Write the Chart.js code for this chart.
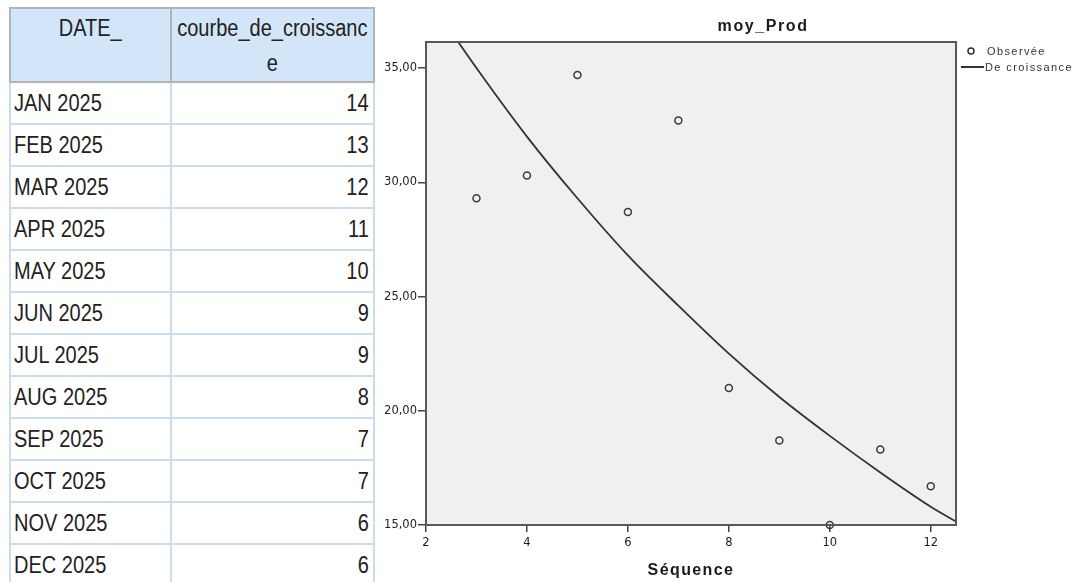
<!DOCTYPE html>
<html>
<head>
<meta charset="utf-8">
<script src="https://cdn.jsdelivr.net/npm/chart.js@4"></script>
<style>
    html, body { margin: 0; padding: 0; background: #fff; width: 1077px; height: 582px; overflow: hidden; }
    #grid {
        position: absolute; left: 9px; top: 7px;
        border-collapse: collapse; table-layout: fixed; width: 364px;
        font-family: "Liberation Sans", Arial, sans-serif; font-size: 23px; color: #222;
    }
    #grid th {
        background: #d3e5f9; border: 2px solid #b3b3b3; font-weight: normal;
        height: 70px; padding: 2px 0 0 0; vertical-align: top; line-height: 35px; text-align: center;
    }
    #grid td { border: 2px solid #cadcf0; height: 40px; padding: 0 3px; line-height: 40px; white-space: nowrap; }
    #grid td.num { text-align: right; padding-right: 4px; }
    #grid span { display: inline-block; transform: scaleX(0.87); }
    #grid th span { white-space: nowrap; margin: 0 -30px; transform-origin: center; }
    #grid td span { transform-origin: left center; }
    #grid td.num span { transform-origin: right center; }
    #wrap { position: absolute; left: 380px; top: 0; width: 697px; height: 582px; }
</style>
</head>
<body>
<table id="grid"><colgroup><col style="width:161px"><col style="width:203px"></colgroup><thead></thead><tbody></tbody></table>
<div id="wrap"><canvas id="growthChart"></canvas></div>
<script>
// table
const columns = ['DATE_', 'courbe_de_croissanc<br>e'];
const months = ['JAN 2025', 'FEB 2025', 'MAR 2025', 'APR 2025', 'MAY 2025', 'JUN 2025',
    'JUL 2025', 'AUG 2025', 'SEP 2025', 'OCT 2025', 'NOV 2025', 'DEC 2025'];
const growthValues = [14, 13, 12, 11, 10, 9, 9, 8, 7, 7, 6, 6];

// chart
const seqObserved = [3, 4, 5, 6, 7, 8, 9, 10, 11, 12];
const prodObserved = [29.3, 30.3, 34.7, 28.7, 32.7, 21.0, 18.7, 15.0, 18.3, 16.7];
const seqCurve = [2, 3, 4, 5, 6, 7, 8, 9, 10, 11, 12, 12.5];
const prodCurve = [38.2, 35.0, 32.0, 29.3, 26.8, 24.6, 22.5, 20.6, 18.9, 17.3, 15.8, 15.15];
const xTicks = [2, 4, 6, 8, 10, 12];
const yTicks = [15, 20, 25, 30, 35];

document.addEventListener('DOMContentLoaded', () => {
    buildTable();
    buildChart();
});

function buildTable() {
    const head = document.querySelector('#grid thead');
    const body = document.querySelector('#grid tbody');
    head.innerHTML = '<tr>' + columns.map(c => '<th><span>' + c + '</span></th>').join('') + '</tr>';
    body.innerHTML = months.map((m, i) =>
        '<tr><td><span>' + m + '</span></td><td class="num"><span>' + growthValues[i] + '</span></td></tr>'
    ).join('');
}

// background, frame, title and legend drawn like the SPSS output
const spssLook = {
    id: 'spssLook',
    beforeDatasetsDraw(chart) {
        const { ctx, chartArea: a } = chart;
        ctx.save();
        ctx.fillStyle = '#f0f0f0';
        ctx.fillRect(a.left, a.top, a.right - a.left, a.bottom - a.top);
        ctx.restore();
    },
    afterDraw(chart) {
        const { ctx, chartArea: a } = chart;
        const ds = chart.data.datasets;
        ctx.save();
        ctx.strokeStyle = '#585858';
        ctx.lineWidth = 2;
        ctx.strokeRect(a.left, a.top, a.right - a.left, a.bottom - a.top);

        ctx.fillStyle = '#1a1a1a';
        ctx.textAlign = 'center';
        ctx.textBaseline = 'middle';
        ctx.font = 'bold 16px "Liberation Sans", Arial';
        ctx.letterSpacing = '1.6px';
        ctx.fillText('moy_Prod', a.left + (a.right - a.left) * 0.636, 27);
        ctx.font = 'bold 16px "Liberation Sans", Arial';
        ctx.letterSpacing = '1.4px';
        ctx.fillText('Séquence', (a.left + a.right) / 2, 571);

        // legend
        ctx.textAlign = 'left';
        ctx.font = '11px "Liberation Sans", Arial';
        ctx.letterSpacing = '1.4px';
        ctx.fillStyle = '#333';
        ctx.strokeStyle = '#333';
        ctx.lineWidth = 1.5;
        ctx.beginPath();
        ctx.arc(a.right + 15, 51, 3, 0, Math.PI * 2);
        ctx.stroke();
        ctx.fillText(ds[0].label, a.right + 31, 52);
        ctx.lineWidth = 2;
        ctx.beginPath();
        ctx.moveTo(a.right + 5, 67);
        ctx.lineTo(a.right + 28, 67);
        ctx.stroke();
        ctx.fillText(ds[1].label, a.right + 29, 68);
        ctx.restore();
    }
};

function buildChart() {
    new Chart(document.getElementById('growthChart'), {
        type: 'scatter',
        data: {
            datasets: [{
                label: 'Observée',
                data: seqObserved.map((x, i) => ({ x, y: prodObserved[i] })),
                pointStyle: 'circle',
                pointRadius: 3.5,
                pointBorderWidth: 1.5,
                borderColor: '#3a3a3a',
                backgroundColor: 'rgba(0,0,0,0)',
                clip: false
            }, {
                type: 'line',
                label: 'De croissance',
                data: seqCurve.map((x, i) => ({ x, y: prodCurve[i] })),
                borderColor: '#333',
                borderWidth: 1.8,
                pointRadius: 0,
                cubicInterpolationMode: 'monotone',
                fill: false
            }]
        },
        options: {
            responsive: true,
            maintainAspectRatio: false,
            animation: false,
            layout: { padding: { top: 42, right: 121, left: 0, bottom: 0 } },
            plugins: {
                legend: { display: false },
                title: { display: false },
                tooltip: { enabled: false }
            },
            scales: {
                x: {
                    type: 'linear',
                    min: 2,
                    max: 12.5,
                    afterBuildTicks: s => { s.ticks = xTicks.map(v => ({ value: v })); },
                    afterFit: s => { s.height = 57; },
                    grid: { drawOnChartArea: false, drawTicks: true, tickLength: 7, color: '#444', lineWidth: 1.5 },
                    border: { display: false },
                    ticks: { font: { family: 'DejaVu Sans', size: 11.5 }, color: '#222', padding: 4, maxRotation: 0 }
                },
                y: {
                    type: 'linear',
                    min: 15,
                    max: 36.14,
                    afterBuildTicks: s => { s.ticks = yTicks.map(v => ({ value: v })); },
                    afterFit: s => { s.width = 46; },
                    grid: { drawOnChartArea: false, drawTicks: true, tickLength: 8, color: '#444', lineWidth: 1.5 },
                    border: { display: false },
                    ticks: {
                        font: { family: 'DejaVu Sans', size: 11.5 },
                        color: '#222',
                        padding: 1,
                        callback: v => v.toFixed(2).replace('.', ',')
                    }
                }
            }
        },
        plugins: [spssLook]
    });
}
</script>
</body>
</html>
